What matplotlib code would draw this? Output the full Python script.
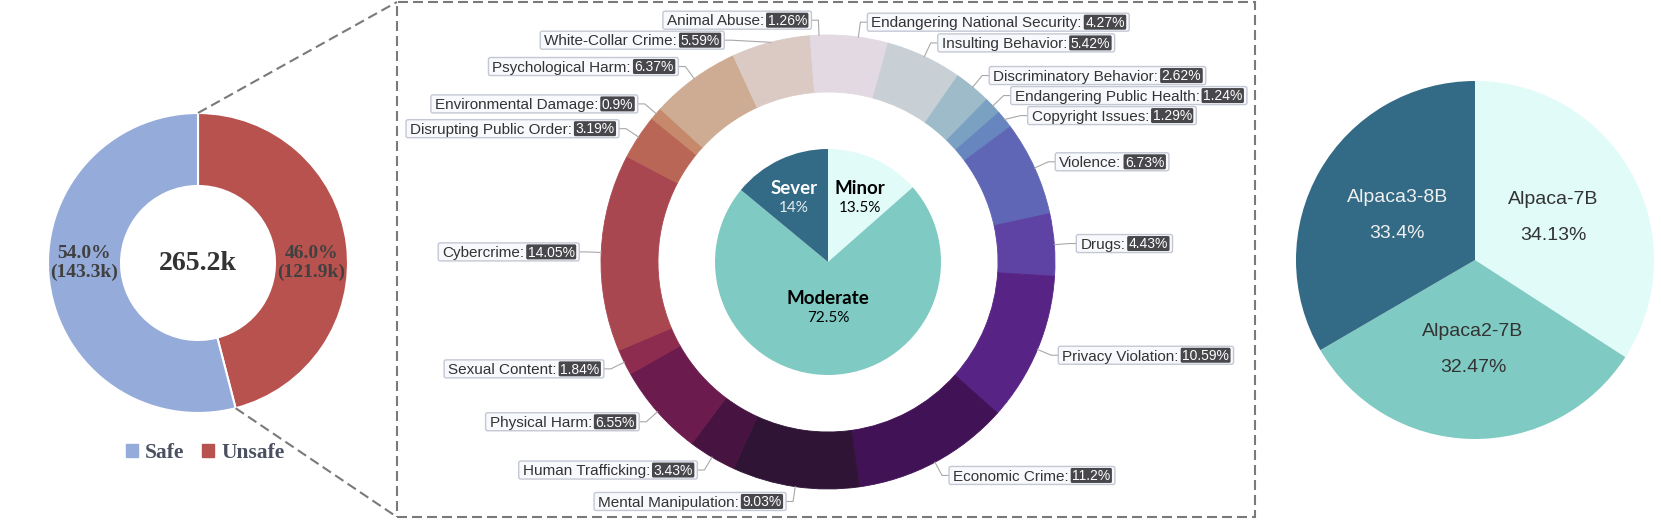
import numpy as np
import matplotlib
matplotlib.use('Agg')
import matplotlib.pyplot as plt
from matplotlib.patches import Rectangle, FancyBboxPatch

# ---- data ----
split_labels = ['Safe', 'Unsafe']
split_counts = [143.3, 121.9]          # thousands
split_colors = ['#95abd9', '#b8524e']

# outer ring, clockwise from 12 o'clock
harm_labels = ['Endangering National Security', 'Insulting Behavior', 'Discriminatory Behavior',
               'Endangering Public Health', 'Copyright Issues', 'Violence', 'Drugs',
               'Privacy Violation', 'Economic Crime', 'Mental Manipulation', 'Human Trafficking',
               'Physical Harm', 'Sexual Content', 'Cybercrime', 'Disrupting Public Order',
               'Environmental Damage', 'Psychological Harm', 'White-Collar Crime', 'Animal Abuse']
harm_pct = [4.27, 5.42, 2.62, 1.24, 1.29, 6.73, 4.43, 10.59, 11.2, 9.03, 3.43,
            6.55, 1.84, 14.05, 3.19, 0.9, 6.37, 5.59, 1.26]

severity_labels = ['Minor', 'Moderate', 'Sever']
severity_pct = [13.5, 72.5, 14]

model_labels = ['Alpaca-7B', 'Alpaca2-7B', 'Alpaca3-8B']
model_pct = [34.13, 32.47, 33.4]

teal3 = ['#e0fbf8', '#80cac4', '#336a85']

W, H = 1661, 520
fig = plt.figure(figsize=(W / 100, H / 100), dpi=100)
ax = fig.add_axes([0, 0, 1, 1])

sans = 'Liberation Sans'
serif = 'Liberation Serif'

# ---- left donut ----
lc, lR, lw_ring = (198, 257), 150, 73
ax.pie(split_counts[::-1], colors=split_colors[::-1], radius=lR, center=lc,
       startangle=90, counterclock=False,
       wedgeprops=dict(width=lw_ring, edgecolor='white', linewidth=1.5))
total = sum(split_counts)
rmid = lR - lw_ring / 2
for lab, cnt, sgn in zip(split_labels, split_counts, [-1, 1]):
    ax.text(lc[0] + sgn * rmid, lc[1], f'{cnt / total * 100:.1f}%\n({cnt}k)',
            ha='center', va='center', fontsize=14, fontweight='bold', family=serif,
            color='#404040', linespacing=1.15)
ax.text(lc[0], lc[1], f'{total:.1f}k', ha='center', va='center', fontsize=20,
        fontweight='bold', family=serif, color='#333333')

# ---- middle: severity pie + harm ring ----
mc = (828, 258)
ring_R, ring_w = 227, 57
ring_colors = plt.get_cmap('twilight')(np.linspace(0, 1, len(harm_pct)))
ring, _ = ax.pie(harm_pct, colors=ring_colors, radius=ring_R, center=mc,
                 startangle=90, counterclock=False,
                 wedgeprops=dict(width=ring_w, linewidth=0.6))
for w, c in zip(ring, ring_colors):
    w.set_edgecolor(c)

inner, _ = ax.pie(severity_pct, colors=teal3, radius=113, center=mc,
                  startangle=90, counterclock=False,
                  wedgeprops=dict(linewidth=0.5, edgecolor='none'))
sev_offsets = [(32, 74), (0, -36), (-34, 74)]
sev_txt = ['black', 'black', 'white']
for lab, p, (dx, dy), c in zip(severity_labels, severity_pct, sev_offsets, sev_txt):
    ax.text(mc[0] + dx, mc[1] + dy, lab, ha='center', va='center', fontsize=13.5,
            fontweight='bold', family='Lato', color=c)
    ax.text(mc[0] + dx, mc[1] + dy - 20, f'{p:g}%', ha='center', va='center',
            fontsize=11, family='Lato', color=c if c == 'black' else '#e4eef2')

# ---- right pie ----
rc, rR = (1475, 260), 179
mw, _ = ax.pie(model_pct, colors=teal3, radius=rR, center=rc,
               startangle=90, counterclock=False)
for w, lab, p, c in zip(mw, model_labels, model_pct, ['#333333', '#333333', '#f0f0f0']):
    a = np.deg2rad((w.theta1 + w.theta2) / 2)
    x, y = rc[0] + rR / 2 * np.cos(a), rc[1] + rR / 2 * np.sin(a)
    ax.text(x, y + 18, lab, ha='center', va='center', fontsize=14, family=sans, color=c)
    ax.text(x, y - 18, f'{p:g}%', ha='center', va='center', fontsize=14, family=sans, color=c)

# ---- limits ----
ax.set_xlim(0, W)
ax.set_ylim(0, H)
ax.set_aspect('auto')
ax.axis('off')

# ---- dashed frame and connectors ----
bx0, by0, bx1, by1 = 397, 3, 1255, 518
ds = (0, (4.8, 2.4))
ax.add_patch(Rectangle((bx0, by0), bx1 - bx0, by1 - by0, fill=False,
                       edgecolor='#7a7a7a', linewidth=1.5, linestyle=ds))
a_end = np.deg2rad(90 - 360 * split_counts[1] / total)
ax.plot([lc[0], bx0], [lc[1] + lR, by1], color='#7a7a7a', lw=1.5, linestyle=ds)
ax.plot([lc[0] + lR * np.cos(a_end), bx0], [lc[1] + lR * np.sin(a_end), by0],
        color='#7a7a7a', lw=1.5, linestyle=ds)

# ---- legend ----
leg = ax.legend(handles=[Rectangle((0, 0), 1, 1, color=c) for c in split_colors],
                labels=split_labels, loc='center', bbox_to_anchor=(205, 67),
                bbox_transform=ax.transData, ncol=2, frameon=False,
                handlelength=0.55, handleheight=0.55, handletextpad=0.35,
                columnspacing=0.8, prop=dict(family=serif, weight='bold', size=15.5))
for t in leg.get_texts():
    t.set_color('#4a5060')

# ---- ring labels (echarts style layout) ----
fig.canvas.draw()
rend = fig.canvas.get_renderer()

len1, gap, box_h = 15, 7, 18
r2 = ring_R + len1
items = []
for w, lab, p in zip(ring, harm_labels, harm_pct):
    a = np.deg2rad((w.theta1 + w.theta2) / 2)
    p0 = (mc[0] + ring_R * np.cos(a), mc[1] + ring_R * np.sin(a))
    y1 = mc[1] + r2 * np.sin(a)
    items.append(dict(lab=lab, p=p, p0=p0, y=y1, side=1 if np.cos(a) > 0 else -1))

for side in (1, -1):
    grp = sorted([d for d in items if d['side'] == side], key=lambda d: -d['y'])
    for prev, cur in zip(grp[:-1], grp[1:]):
        if prev['y'] - cur['y'] < box_h + 2:
            cur['y'] = prev['y'] - (box_h + 2)

for d in items:
    y = d['y']
    dy = y - mc[1]
    x1 = mc[0] + d['side'] * np.sqrt(max(r2 ** 2 - dy ** 2, 0))
    t1 = ax.text(0, y - 5.3, d['lab'] + ':', fontsize=11, family=sans, color='#333333',
                 ha='left', va='baseline', zorder=5)
    t2 = ax.text(0, y - 4.8, f"{d['p']:g}%", fontsize=10, family=sans, color='white',
                 ha='left', va='baseline', zorder=6)
    w1 = t1.get_window_extent(rend).width
    w2 = t2.get_window_extent(rend).width
    tot = 4 + w1 + 2 + w2 + 3 + 3
    x0 = x1 + gap if d['side'] > 0 else x1 - gap - tot
    t1.set_x(x0 + 4)
    px = x0 + 4 + w1 + 2
    t2.set_x(px + 1.5)
    ax.add_patch(FancyBboxPatch((x0, y - box_h / 2), tot, box_h,
                                boxstyle='round,pad=0,rounding_size=2',
                                facecolor='#f8f9fc', edgecolor='#c4c8d4', lw=1, zorder=4))
    ax.add_patch(FancyBboxPatch((px, y - 7.5), w2 + 3, 15,
                                boxstyle='round,pad=0,rounding_size=1.5',
                                facecolor='#48484c', edgecolor='none', zorder=5))
    ex = x0 if d['side'] > 0 else x0 + tot
    ax.plot([d['p0'][0], x1, ex], [d['p0'][1], y, y], color='#a8a8a8', lw=0.8, zorder=3)

fig.savefig('out.png', dpi=100)
